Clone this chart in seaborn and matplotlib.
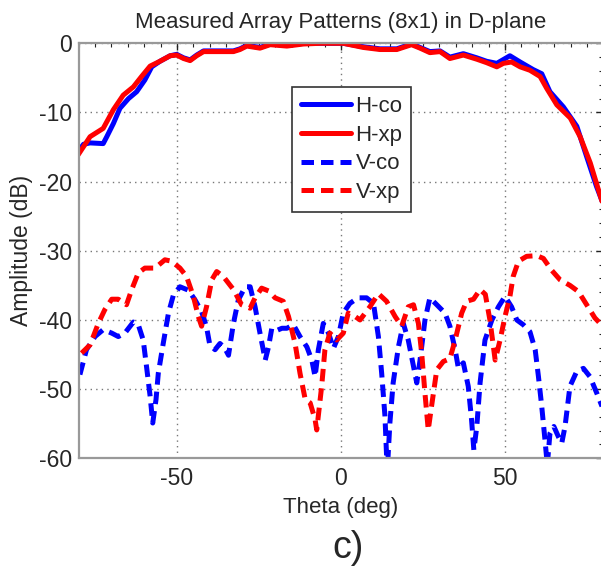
import numpy as np
import pandas as pd
import matplotlib
matplotlib.use("Agg")
import matplotlib.pyplot as plt
import seaborn as sns
from matplotlib.ticker import MultipleLocator

# ---- data ----
h_theta = [-80.1, -76.5, -72.5, -69.4, -66.4, -63.3, -60.8, -58.2, -55.2, -52.1, -50.1, -48.0, -46.0,
           -44.0, -41.9, -37.9, -32.8, -30.8, -28.7, -24.7, -21.6, -16.5, -11.4, -6.3, -1.2, 0.7, 6.8,
           11.9, 17.0, 21.5, 24.1, 27.1, 30.2, 33.2, 37.3, 41.4, 44.4, 47.5, 49.5, 52.0, 54.6, 57.6,
           60.7, 62.7, 65.8, 69.9, 72.9, 76.0, 78.5, 80.0]
h_xp = [-16.1, -13.5, -12.3, -9.6, -7.5, -6.3, -4.8, -3.3, -2.6, -1.8, -1.7, -2.2, -2.5,
        -1.8, -1.2, -1.2, -1.2, -0.9, -0.4, -0.7, -0.2, -0.4, -0.1, 0.0, 0.0, 0.0, -0.6,
        -0.9, -0.9, -0.2, -0.7, -1.35, -1.2, -2.2, -1.7, -2.3, -2.8, -3.4, -2.9, -2.7, -3.4, -3.9,
        -4.8, -6.5, -8.9, -10.8, -13.5, -17.3, -21.2, -23.5]

hco_theta = [-80.1, -78.5, -76.5, -72.5, -71.4, -69.4, -67.4, -64.8, -62.3, -59.8, -57.7, -55.2, -52.1,
             -50.1, -48.0, -46.0, -44.0, -41.9, -37.9, -32.8, -30.8, -28.7, -24.7, -21.6, -16.5, -11.4,
             -6.3, -1.2, 0.7, 6.8, 11.9, 17.0, 21.5, 24.1, 27.1, 30.2, 33.2, 37.3, 41.4, 44.4, 47.5,
             51.5, 54.6, 58.6, 61.2, 63.7, 67.8, 71.9, 74.9, 77.9, 80.0]
h_co = [-15.6, -14.6, -14.4, -14.5, -13.5, -11.6, -9.4, -8.0, -7.0, -5.3, -3.4, -2.6, -1.8,
        -1.6, -2.1, -2.4, -1.7, -1.1, -1.1, -1.1, -0.8, -0.3, -0.6, -0.1, -0.3, 0.0,
        0.0, 0.0, 0.0, -0.5, -0.8, -0.8, -0.1, -0.6, -1.2, -1.1, -2.0, -1.5, -2.1, -2.6, -2.9,
        -1.8, -2.7, -3.8, -4.4, -7.0, -9.2, -12.0, -16.4, -20.7, -23.3]

vco_theta = [-79.6, -77.6, -75.0, -72.5, -69.9, -67.9, -65.9, -63.3, -61.8, -60.3, -59.3, -58.2, -57.4,
             -56.4, -55.7, -54.2, -52.6, -51.1, -49.1, -46.5, -44.5, -42.5, -41.0, -40.0, -38.4, -36.9,
             -35.4, -34.3, -32.8, -31.3, -29.2, -27.7, -26.2, -24.7, -23.1, -22.1, -21.1, -19.5, -18.0,
             -16.5, -14.5, -12.5, -10.4, -8.9, -7.9, -6.9, -5.4, -3.8, -2.3, -0.8, 0.7, 2.7, 5.2, 7.8,
             9.9, 11.4, 12.4, 13.4, 14.1, 14.9, 15.9, 17.5, 19.0, 20.5, 22.1, 23.1, 24.1, 25.6, 27.1,
             29.2, 31.7, 33.2, 34.8, 35.8, 37.3, 38.8, 39.8, 40.5, 41.4, 42.4, 43.9, 46.0, 48.0, 50.0,
             52.0, 53.6, 55.6, 57.6, 59.2, 60.2, 61.2, 62.2, 62.9, 63.7, 64.9, 66.3, 67.3, 68.3, 69.8,
             71.9, 73.9, 75.9, 78.0, 80.0]
v_co = [-47.9, -44.3, -42.4, -41.4, -41.9, -42.4, -41.9, -40.3, -40.7, -42.9, -46.7, -51.0, -54.9,
        -51.5, -47.7, -43.4, -39.0, -36.4, -35.2, -35.7, -37.1, -38.8, -41.0, -43.6, -44.3, -43.4,
        -44.1, -45.1, -40.5, -37.1, -35.2, -35.2, -38.1, -41.9, -45.8, -43.9, -41.2, -41.5, -41.2,
        -41.2, -40.7, -42.4, -43.9, -45.8, -48.2, -44.3, -40.5, -41.9, -44.1, -42.4, -39.0, -37.6,
        -36.8, -36.8, -37.6, -42.4, -47.7, -53.9, -62.0, -54.9, -49.1, -43.9, -40.5, -42.9, -46.7,
        -49.1, -45.8, -40.0, -36.8, -37.8, -39.0, -40.9, -44.3, -47.0, -46.2, -49.6, -54.4, -58.8,
        -55.4, -49.1, -42.9, -40.0, -38.1, -36.6, -38.1, -40.0, -40.7, -41.7, -44.3, -48.2, -52.5,
        -57.4, -61.0, -56.4, -55.4, -56.9, -57.8, -55.4, -49.6, -47.4, -47.0, -48.2, -50.6, -53.0]

vxp_theta = [-79.1, -76.5, -74.0, -72.0, -69.9, -67.9, -65.4, -63.8, -61.8, -59.8, -56.7, -53.7, -51.7,
             -49.1, -47.1, -45.0, -43.5, -42.5, -41.0, -39.4, -37.9, -35.9, -32.8, -30.3, -27.7, -26.2,
             -24.2, -22.1, -20.1, -17.6, -16.0, -14.0, -12.5, -10.9, -9.4, -7.9, -7.4, -5.9, -4.9, -3.4,
             -1.3, 0.7, 2.2, 4.3, 5.8, 8.8, 11.4, 13.9, 16.5, 18.5, 20.5, 22.1, 23.6, 24.6, 25.6, 26.6,
             27.6, 29.2, 31.2, 33.2, 34.8, 36.8, 38.3, 40.4, 42.4, 44.0, 45.4, 47.0, 48.5, 50.0, 51.5,
             52.5, 54.1, 56.6, 59.7, 61.7, 64.2, 66.8, 69.8, 72.4, 74.9, 77.4, 80.0]
v_xp = [-44.8, -43.6, -40.5, -38.5, -37.0, -37.0, -37.8, -35.6, -33.2, -32.5, -32.5, -31.3, -31.5,
        -32.5, -33.7, -36.6, -39.5, -40.9, -38.1, -34.2, -33.0, -33.7, -35.6, -37.8, -38.3, -36.8,
        -35.4, -35.8, -36.8, -37.3, -39.5, -43.4, -47.7, -51.5, -52.0, -54.4, -55.9, -49.6, -44.3, -41.9,
        -42.9, -41.9, -39.0, -39.5, -40.0, -38.1, -36.2, -37.3, -39.5, -40.9, -38.1, -37.8, -40.5, -44.8,
        -50.6, -55.9, -52.5, -47.2, -46.0, -45.6, -42.9, -39.0, -37.3, -37.0, -35.6, -36.3, -40.0, -45.8,
        -42.9, -39.5, -36.6, -33.7, -31.5, -30.8, -30.7, -31.1, -32.8, -34.2, -35.0, -35.9, -37.8, -39.7,
        -41.0]

series_names = ["H-co", "H-xp", "V-co", "V-xp"]
title = "Measured Array Patterns (8x1) in D-plane"

# ---- figure ----
sns.set_theme(style="white")
plt.rcParams["font.family"] = ["Liberation Sans", "DejaVu Sans"]
plt.rcParams["axes.unicode_minus"] = False

fig = plt.figure(figsize=(6.01, 5.73), dpi=100)
ax = fig.add_axes([78.6 / 601, 114.7 / 573, 524.8 / 601, 415.0 / 573])

lw = 3.6
sns.lineplot(x=hco_theta, y=h_co, ax=ax, color="#0000ff", lw=lw, sort=False, label=series_names[0])
sns.lineplot(x=h_theta, y=h_xp, ax=ax, color="#ff0000", lw=lw, sort=False, label=series_names[1])
sns.lineplot(x=vco_theta, y=v_co, ax=ax, color="#0000ff", lw=lw, sort=False, label=series_names[2])
sns.lineplot(x=vxp_theta, y=v_xp, ax=ax, color="#ff0000", lw=lw, sort=False, label=series_names[3])
lines = ax.get_lines()
for ln in lines[2:4]:
    ln.set_dashes((2.5, 1.4))

ax.set_xlim(-80, 80)
ax.set_ylim(-60, 0)
ax.xaxis.set_major_locator(MultipleLocator(50))
ax.xaxis.set_minor_locator(MultipleLocator(5))
ax.yaxis.set_major_locator(MultipleLocator(10))
ax.yaxis.set_minor_locator(MultipleLocator(2))
ax.tick_params(which="both", direction="in", top=True, right=True, color="#222222")
ax.tick_params(which="major", length=5, width=1, labelsize=16.5)
ax.tick_params(axis="y", which="major", pad=5)
ax.tick_params(axis="x", which="major", pad=6)
ax.tick_params(which="minor", length=3, width=0.8)
ax.grid(True, which="major", linestyle=(0, (1, 3)), color="#777777", linewidth=1.0)
for s in ax.spines.values():
    s.set_color("#999999")
    s.set_linewidth(1.6)

ax.set_title(title, fontsize=16, pad=11)
ax.set_xlabel("Theta (deg)", fontsize=16, labelpad=5)
ax.set_ylabel("Amplitude (dB)", fontsize=16.5, labelpad=4)

leg = ax.legend(loc="upper left", bbox_to_anchor=(0.407, 0.895), borderaxespad=0,
                fontsize=16, handlelength=2.25, handletextpad=0.2, labelspacing=0.35,
                frameon=True, fancybox=False, framealpha=1, edgecolor="#333333",
                borderpad=0.4)
leg.get_frame().set_linewidth(1.2)

fig.text(348 / 601, 1 - 548 / 573, "c)", ha="center", va="center", fontsize=27)

fig.savefig("out.png", dpi=100)
